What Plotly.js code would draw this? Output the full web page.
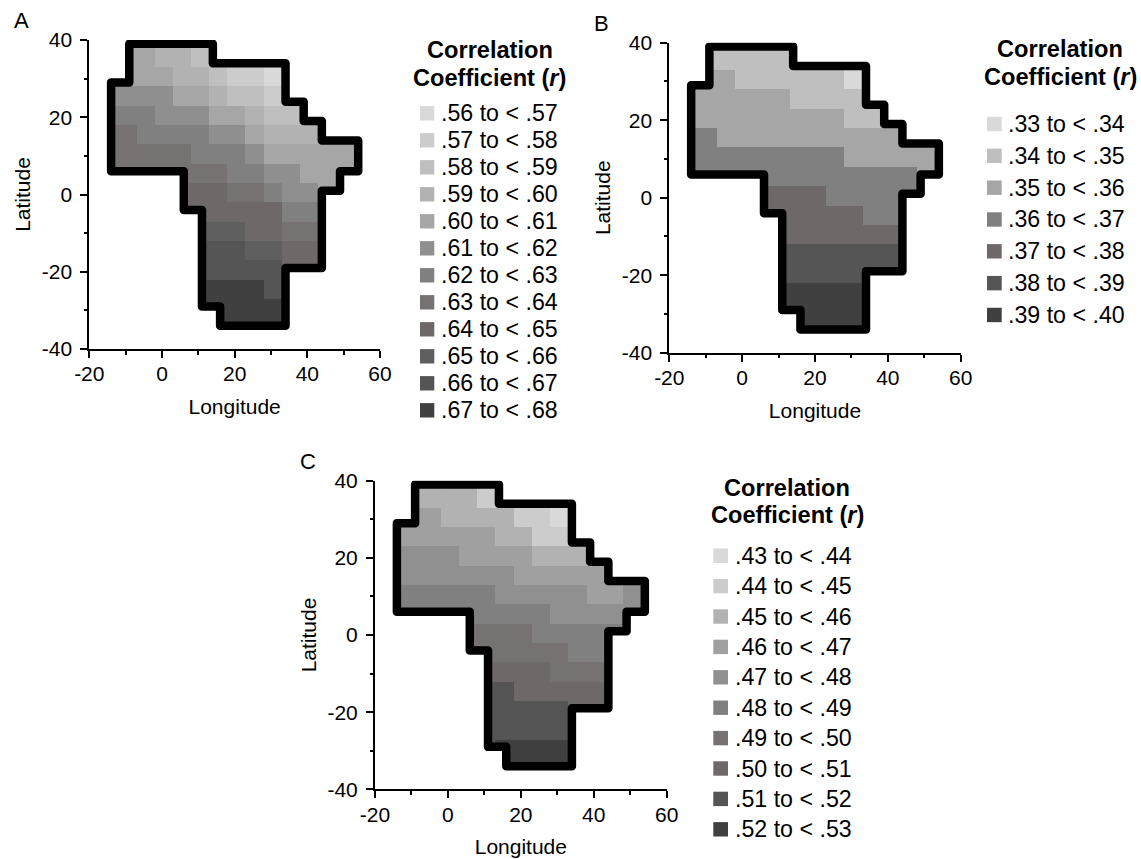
<!DOCTYPE html>
<html>
<head>
<meta charset="utf-8">
<script src="https://cdn.plot.ly/plotly-3.0.1.min.js"></script>
<style>html,body{margin:0;padding:0;background:#fff}
.js-line{stroke-linejoin:round !important}</style>
</head>
<body>
<div id="chart" style="width:1141px;height:859px"></div>
<script>
const _ = null;
// Axis ticks (hyphen-minus labels as in the reference)
const lonTicks = [-20,0,20,40,60];
const lonTickLabels = ["-20","0","20","40","60"];
const latTicks = [-40,-20,0,20,40];
const latTickLabels = ["-40","-20","0","20","40"];
const lonMinorTicks = [-10,10,30,50];
const latMinorTicks = [-30,-10,10,30];
// Coarse 5-degree grid edges (cell levels index into each panel's legend)
const lonEdges = [-17,-12,-7,-2,3,8,13,18,23,28,33,38,43,48,53,58];
const latEdges = [38,33,28,23,18,13,8,3,-2,-7,-12,-17,-22,-27,-32,-37];
// Outline of the region [lon, lat]
const outlineLon = [0,14,14,34,34,39,39,44,44,54,54,49,49,44,44,34,34,16,16,11,11,6,6,-14,-14,-9,-9,0];
const outlineLat = [39,39,34,34,24,24,19,19,14,14,6,6,1,1,-19,-19,-34,-34,-29,-29,-4,-4,6,6,29,29,39,39];

const levelsA = [
 [_,4,4,3,3,2,2,_,_,_,_,_,_,_,_],
 [5,4,4,4,3,3,2,1,1,0,0,_,_,_,_],
 [5,5,5,5,4,4,3,2,2,1,1,_,_,_,_],
 [6,6,6,5,5,5,4,4,3,2,2,2,_,_,_],
 [7,7,6,6,6,6,5,5,4,3,3,3,3,3,3],
 [7,7,7,7,7,6,6,6,5,4,4,4,4,4,4],
 [7,7,7,7,7,7,7,6,6,5,5,4,4,4,4],
 [_,_,_,_,8,8,8,7,7,6,5,5,4,4,_],
 [_,_,_,_,8,8,8,8,8,8,6,6,6,_,_],
 [_,_,_,_,_,9,9,9,8,8,7,7,7,_,_],
 [_,_,_,_,_,10,10,10,9,9,8,8,8,_,_],
 [_,_,_,_,_,10,10,10,10,10,8,8,8,_,_],
 [_,_,_,_,_,11,11,11,11,10,10,_,_,_,_],
 [_,_,_,_,_,11,11,11,11,11,11,_,_,_,_],
 [_,_,_,_,_,11,11,11,11,11,11,_,_,_,_]
];
const levelsB = [
 [_,1,1,1,1,1,1,_,_,_,_,_,_,_,_],
 [2,2,2,1,1,1,1,1,1,0,0,_,_,_,_],
 [2,2,2,2,2,2,1,1,1,1,1,_,_,_,_],
 [2,2,2,2,2,2,2,2,2,1,1,1,_,_,_],
 [3,3,2,2,2,2,2,2,2,2,2,2,2,2,2],
 [3,3,3,3,3,3,3,3,3,2,2,2,2,2,2],
 [3,3,3,3,3,3,3,3,3,3,3,3,3,2,2],
 [_,_,_,_,4,4,4,4,3,3,3,3,3,3,_],
 [_,_,_,_,4,4,4,4,4,4,3,3,3,_,_],
 [_,_,_,_,_,4,4,4,4,4,4,4,4,_,_],
 [_,_,_,_,_,5,5,5,5,5,5,5,5,_,_],
 [_,_,_,_,_,5,5,5,5,5,5,5,5,_,_],
 [_,_,_,_,_,6,6,6,6,6,6,_,_,_,_],
 [_,_,_,_,_,6,6,6,6,6,6,_,_,_,_],
 [_,_,_,_,_,6,6,6,6,6,6,_,_,_,_]
];
const levelsC = [
 [_,2,2,2,2,1,1,_,_,_,_,_,_,_,_],
 [4,3,3,2,2,2,2,1,1,0,0,_,_,_,_],
 [3,3,3,3,3,3,2,2,1,1,1,_,_,_,_],
 [4,4,4,4,3,3,3,3,2,2,2,2,_,_,_],
 [4,4,4,4,4,4,4,3,3,3,3,3,3,3,3],
 [5,5,5,5,5,5,4,4,4,4,4,3,3,4,4],
 [5,5,5,5,5,5,5,5,5,4,4,4,4,4,4],
 [_,_,_,_,6,6,6,6,5,5,5,5,5,5,_],
 [_,_,_,_,6,6,6,6,6,6,5,5,5,_,_],
 [_,_,_,_,_,7,7,7,7,6,6,6,6,_,_],
 [_,_,_,_,_,8,8,7,7,7,7,7,7,_,_],
 [_,_,_,_,_,8,8,8,8,8,7,7,7,_,_],
 [_,_,_,_,_,8,8,8,8,8,8,_,_,_,_],
 [_,_,_,_,_,8,9,9,9,9,9,_,_,_,_],
 [_,_,_,_,_,8,9,9,9,9,9,_,_,_,_]
];

const legendA = [".56 to < .57",".57 to < .58",".58 to < .59",".59 to < .60",".60 to < .61",".61 to < .62",".62 to < .63",".63 to < .64",".64 to < .65",".65 to < .66",".66 to < .67",".67 to < .68"];
const colorsA = ["#d9d9d9","#cccccc","#bfbfbf","#b2b2b2","#a6a6a6","#8f8f8f","#808080","#777272","#6e6868","#5f5f5f","#555555","#404040"];
const legendB = [".33 to < .34",".34 to < .35",".35 to < .36",".36 to < .37",".37 to < .38",".38 to < .39",".39 to < .40"];
const colorsB = ["#d9d9d9","#bfbfbf","#a6a6a6","#808080","#6e6868","#555555","#404040"];
const legendC = [".43 to < .44",".44 to < .45",".45 to < .46",".46 to < .47",".47 to < .48",".48 to < .49",".49 to < .50",".50 to < .51",".51 to < .52",".52 to < .53"];
const colorsC = ["#d9d9d9","#cccccc","#b2b2b2","#a0a0a0","#909090","#808080","#777272","#6e6868","#555555","#404040"];

const W = 1141, H = 859, FONT = "Liberation Sans, Arial, sans-serif";
const panels = [
 {letter:"A", levels:levelsA, colors:colorsA, legend:legendA, box:[89.3,380,40,349],
  letterXY:[12,21], swX:[420,434.3], swY:[113.3,27], txtX:438.5, titleXY:[489.5,50,78]},
 {letter:"B", levels:levelsB, colors:colorsB, legend:legendB, box:[669.3,960.7,42.7,352.7],
  letterXY:[592,24], swX:[987,1001.7], swY:[124,31.83], txtX:1005.5, titleXY:[1060,49.5,77.5]},
 {letter:"C", levels:levelsC, colors:colorsC, legend:legendC, box:[375,666.7,480.7,789.3],
  letterXY:[298,461], swX:[713.3,728], swY:[555.7,30.4], txtX:732.5, titleXY:[787.3,487.5,515]}
];

function inside(x, y) {
  let c = false;
  for (let i = 0, j = outlineLon.length - 1; i < outlineLon.length; j = i++) {
    const xi = outlineLon[i], yi = outlineLat[i], xj = outlineLon[j], yj = outlineLat[j];
    if ((yi > y) !== (yj > y) && x < (xj - xi) * (y - yi) / (yj - yi) + xi) c = !c;
  }
  return c;
}
function cellLevel(levels, lon, lat) {
  let r = 0; while (r < latEdges.length - 2 && lat < latEdges[r + 1]) r++;
  let c = 0; while (c < lonEdges.length - 2 && lon > lonEdges[c + 1]) c++;
  return levels[r][c];
}
function raster(levels) {
  const xs = [], ys = [], z = [];
  for (let x = -14; x <= 54; x++) xs.push(x);
  for (let y = -34; y <= 39; y++) ys.push(y);
  for (let j = 0; j < ys.length - 1; j++) {
    const row = [];
    for (let i = 0; i < xs.length - 1; i++) {
      const lon = xs[i] + 0.5, lat = ys[j] + 0.5;
      row.push(inside(lon, lat) ? cellLevel(levels, lon, lat) : null);
    }
    z.push(row);
  }
  return {xs, ys, z};
}
function discreteScale(colors) {
  const n = colors.length, s = [];
  colors.forEach((c, i) => { s.push([i / n, c]); s.push([(i + 1) / n, c]); });
  return s;
}
const px = x => x / W, py = y => 1 - y / H;

const traces = [], shapes = [], annotations = [];
const layout = {
  width: W, height: H, margin: {l:0, r:0, t:0, b:0},
  paper_bgcolor: "#fff", plot_bgcolor: "#fff", showlegend: false,
  font: {family: FONT, color: "#000", size: 21}
};
panels.forEach((p, k) => {
  const s = k === 0 ? "" : String(k + 1);
  const xa = "x" + s, ya = "y" + s;
  const [x0, x1, y0, y1] = p.box;
  const axisBase = {
    showgrid: false, zeroline: false, showline: true, linecolor: "#000", linewidth: 2,
    ticks: "outside", ticklen: 7, tickwidth: 2, tickcolor: "#000",
    tickfont: {family: FONT, size: 21, color: "#000"}, fixedrange: true, tickmode: "array"
  };
  const minorBase = {ticks: "outside", ticklen: 3.5, tickwidth: 2, tickcolor: "#000", showgrid: false, tickmode: "array"};
  layout["xaxis" + s] = Object.assign({}, axisBase, {
    domain: [px(x0), px(x1)], range: [-20, 60], anchor: ya, ticklabelstandoff: -2,
    tickvals: lonTicks, ticktext: lonTickLabels,
    minor: Object.assign({}, minorBase, {tickvals: lonMinorTicks}),
    title: {text: "Longitude", font: {family: FONT, size: 21, color: "#000"}, standoff: 15}
  });
  layout["yaxis" + s] = Object.assign({}, axisBase, {
    domain: [py(y1), py(y0)], range: [-40, 40], anchor: xa, ticklabelstandoff: 4,
    tickvals: latTicks, ticktext: latTickLabels,
    minor: Object.assign({}, minorBase, {tickvals: latMinorTicks}),
    title: {text: "Latitude", font: {family: FONT, size: 21, color: "#000"}, standoff: 5}
  });
  const g = raster(p.levels);
  traces.push({type: "heatmap", x: g.xs, y: g.ys, z: g.z, xaxis: xa, yaxis: ya,
    zmin: -0.5, zmax: p.colors.length - 0.5, colorscale: discreteScale(p.colors),
    showscale: false, hoverinfo: "skip", zsmooth: false});
  traces.push({type: "scatter", mode: "lines", x: outlineLon, y: outlineLat, xaxis: xa, yaxis: ya,
    line: {color: "#000", width: 8.5}, hoverinfo: "skip", cliponaxis: false});
  annotations.push({xref:"paper", yref:"paper", x:px(p.letterXY[0]), y:py(p.letterXY[1]), xanchor:"left", yanchor:"middle",
    showarrow:false, text:p.letter, font:{family:FONT, size:22, color:"#000"}});
  annotations.push({xref:"paper", yref:"paper", x:px(p.titleXY[0]), y:py(p.titleXY[1]), xanchor:"center", yanchor:"middle",
    showarrow:false, text:"<b>Correlation</b>", font:{family:FONT, size:23.6, color:"#000"}});
  annotations.push({xref:"paper", yref:"paper", x:px(p.titleXY[0]), y:py(p.titleXY[2]), xanchor:"center", yanchor:"middle",
    showarrow:false, text:"<b>Coefficient (<i>r</i>)</b>", font:{family:FONT, size:23.6, color:"#000"}});
  p.legend.forEach((t, i) => {
    const yc = p.swY[0] + i * p.swY[1];
    shapes.push({type:"rect", xref:"paper", yref:"paper", x0:px(p.swX[0]), x1:px(p.swX[1]),
      y0:py(yc - 7.2), y1:py(yc + 7.2), fillcolor:p.colors[i], line:{width:0}});
    annotations.push({xref:"paper", yref:"paper", x:px(p.txtX), y:py(yc), xanchor:"left", yanchor:"middle",
      showarrow:false, text:t.replace("<","&lt;"), font:{family:FONT, size:23.2, color:"#000"}});
  });
});
layout.shapes = shapes;
layout.annotations = annotations;
Plotly.newPlot("chart", traces, layout, {staticPlot: true, displayModeBar: false});
</script>
</body>
</html>
